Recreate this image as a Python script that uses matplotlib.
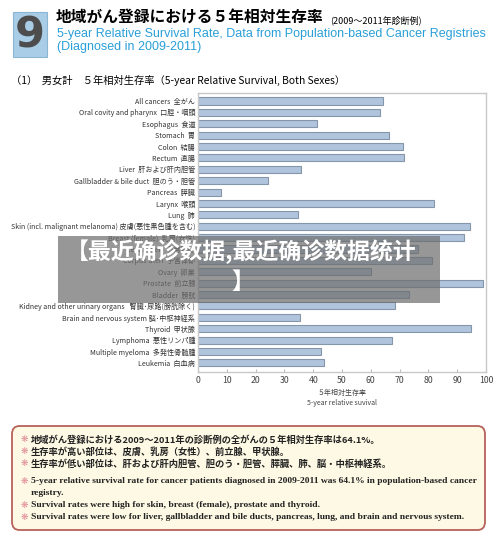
import matplotlib
matplotlib.use("Agg")
import matplotlib.pyplot as plt
from matplotlib.patches import Rectangle, FancyBboxPatch

plt.rcParams['font.family'] = ['Noto Sans CJK JP', 'DejaVu Sans']

# 部位ラベルと5年相対生存率 (%)
sites = [
    "All cancers  全がん",
    "Oral covity and pharynx  口腔・咽頭",
    "Esophagus  食道",
    "Stomach  胃",
    "Colon  結腸",
    "Rectum  直腸",
    "Liver  肝および肝内胆管",
    "Gallbladder & bile duct  胆のう・胆管",
    "Pancreas  膵臓",
    "Larynx  喉頭",
    "Lung  肺",
    "Skin (incl. malignant melanoma) 皮膚(悪性黒色腫を含む)",
    "Breast (female)  乳房(女性)",
    "Cervix uteri  子宮頸部",
    "Corpus uteri  子宮体部",
    "Ovary  卵巣",
    "Prostate  前立腺",
    "Bladder  膀胱",
    "Kidney and other urinary organs   腎臓･尿路(膀胱除く)",
    "Brain and nervous system 脳･中枢神経系",
    "Thyroid  甲状腺",
    "Lymphoma  悪性リンパ腫",
    "Multiple myeloma  多発性骨髄腫",
    "Leukemia  白血病",
]
survival = [64.1, 63.3, 41.3, 66.4, 71.2, 71.7, 35.8, 24.3, 7.9, 81.8, 34.7,
            94.6, 92.2, 76.5, 81.3, 60.0, 99.1, 73.3, 68.4, 35.4, 94.7, 67.4,
            42.7, 43.7]
xticks = list(range(0, 101, 10))

W, H = 500, 540
fig = plt.figure(figsize=(W / 100, H / 100), dpi=100)


def px(x, y):
    return x / W, 1 - y / H


# ---- header ----
fig.patches.append(Rectangle(px(13, 57), 34 / W, 45 / H, transform=fig.transFigure,
                             facecolor="#a9cde6", edgecolor="#8ab6d4", lw=0.8))
fig.text(*px(30, 35), "9", fontsize=31, fontweight="bold", color="#4d4d4d",
         ha="center", va="center", family="DejaVu Sans")
fig.text(*px(56, 18), "地域がん登録における５年相対生存率", fontsize=11.3,
         fontweight="bold", va="center")
fig.text(*px(330, 20), "(2009～2011年診断例)", fontsize=6.5, va="center")
fig.text(*px(57, 34), "5-year Relative Survival Rate, Data from Population-based Cancer Registries",
         fontsize=9.0, color="#2a9fd8", va="center", family="Liberation Sans")
fig.text(*px(57, 47), "(Diagnosed in 2009-2011)", fontsize=9.0, color="#2a9fd8",
         va="center", family="Liberation Sans")
fig.text(*px(11, 80), "（1）  男女計　５年相対生存率（5-year Relative Survival, Both Sexes）",
         fontsize=7.4, va="center")

# ---- bar chart ----
ax = fig.add_axes([198 / W, 1 - 372 / H, (486 - 198) / W, (372 - 93) / H])
ypos = list(range(len(sites)))
ax.barh(ypos, survival, height=0.62, color="#b0c5dd", edgecolor="#8496a8", lw=0.8)
ax.set_xlim(0, 100)
ax.set_ylim(len(sites) - 0.2, -0.7)
ax.set_yticks(ypos)
ax.set_yticklabels(sites, fontsize=5.1, color="#333333")
ax.set_xticks(xticks)
ax.set_xticklabels([str(t) for t in xticks], fontsize=6.3, color="#444444")
ax.tick_params(axis="y", length=0, pad=2)
ax.tick_params(axis="x", direction="in", length=2, color="#bbbbbb", pad=3)
for s in ax.spines.values():
    s.set_color("#c8c8c8")
    s.set_linewidth(1.0)
ax.set_xlabel("５年相対生存率\n5-year relative suvival", fontsize=5.0,
              color="#444444", labelpad=3, linespacing=1.3)

# ---- watermark overlay ----
fig.patches.append(Rectangle(px(58, 303), (440 - 58) / W, (303 - 236) / H,
                             transform=fig.transFigure, facecolor="#6f6f6f",
                             alpha=0.72, edgecolor="none", zorder=10))
fig.text(*px(241, 252), "【最近确诊数据,最近确诊数据统计", fontsize=16.5,
         fontweight="bold", color="white", ha="center", va="center",
         family=["Noto Sans CJK SC", "DejaVu Sans"], zorder=11)
fig.text(*px(243, 282), "】", fontsize=16.5, fontweight="bold", color="white",
         ha="center", va="center", family=["Noto Sans CJK SC", "DejaVu Sans"], zorder=11)

# ---- summary box ----
fig.patches.append(FancyBboxPatch(px(12, 530), (485 - 12) / W, (530 - 426) / H,
                                  boxstyle="round,pad=0,rounding_size=0.015",
                                  transform=fig.transFigure, facecolor="#fdf9e4",
                                  edgecolor="#b7625a", lw=1.3))
bullet = "#e08a98"
jp_lines = [
    (440, "地域がん登録における2009～2011年の診断例の全がんの５年相対生存率は64.1%。"),
    (452, "生存率が高い部位は、皮膚、乳房（女性）、前立腺、甲状腺。"),
    (464, "生存率が低い部位は、肝および肝内胆管、胆のう・胆管、膵臓、肺、脳・中枢神経系。"),
]
for y, t in jp_lines:
    fig.text(*px(21, y), "❋", fontsize=6.5, color=bullet, va="center", family="DejaVu Sans")
    fig.text(*px(31, y), t, fontsize=6.7, va="center", fontweight="bold", color="#222222")
en_lines = [
    (481, "5-year relative survival rate for cancer patients diagnosed in 2009-2011 was 64.1% in population-based cancer", True),
    (493, "registry.", False),
    (505, "Survival rates were high for skin, breast (female), prostate and thyroid.", True),
    (517, "Survival rates were low for liver, gallbladder and bile ducts, pancreas, lung, and brain and nervous system.", True),
]
for y, t, b in en_lines:
    if b:
        fig.text(*px(21, y), "❋", fontsize=6.5, color=bullet, va="center", family="DejaVu Sans")
    fig.text(*px(31, y), t, fontsize=6.8, va="center", fontweight="bold",
             family="Liberation Serif", color="#222222")

fig.savefig("out.png", dpi=100)
